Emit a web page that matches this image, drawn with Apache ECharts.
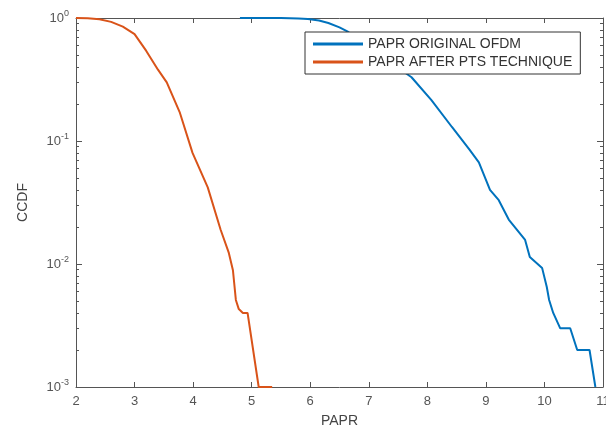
<!DOCTYPE html>
<html>
<head>
<meta charset="utf-8">
<script src="https://cdn.jsdelivr.net/npm/echarts@6/dist/echarts.min.js"></script>
<style>
html,body{margin:0;padding:0;background:#fff;}
#chart{width:606px;height:432px;}
</style>
</head>
<body>
<div id="chart"></div>
<script>
// ---- data ----
var seriesNames = ['PAPR ORIGINAL OFDM', 'PAPR AFTER PTS TECHNIQUE'];
var origX = [4.8, 5.5, 5.8, 5.96, 6.15, 6.31, 6.5, 6.65, 6.8, 7.0, 7.3, 7.73, 8.07, 8.42, 8.72, 8.88, 9.07, 9.22, 9.39, 9.67, 9.75, 9.96, 10.04, 10.08, 10.15, 10.27, 10.44, 10.56, 10.77, 10.87];
var origY = [1.0, 1.0, 0.99, 0.98, 0.955, 0.91, 0.84, 0.77, 0.69, 0.58, 0.46, 0.33, 0.215, 0.13, 0.085, 0.067, 0.04, 0.033, 0.023, 0.0157, 0.0114, 0.0093, 0.0065, 0.0051, 0.004, 0.003, 0.003, 0.002, 0.002, 0.001];
var ptsX = [2.0, 2.2, 2.4, 2.6, 2.8, 3.0, 3.2, 3.4, 3.55, 3.77, 3.99, 4.25, 4.47, 4.61, 4.68, 4.73, 4.78, 4.85, 4.93, 5.12, 5.35];
var ptsY = [1.0, 0.995, 0.975, 0.93, 0.85, 0.74, 0.54, 0.38, 0.30, 0.172, 0.08, 0.042, 0.019, 0.0123, 0.0089, 0.0051, 0.0043, 0.004, 0.004, 0.001, 0.001];
var xTickLabels = ['2','3','4','5','6','7','8','9','10','11'];
var yTickExponents = [-3, -2, -1, 0];
var yMinorTicks = [0.002,0.003,0.004,0.005,0.006,0.007,0.008,0.009,
                   0.02,0.03,0.04,0.05,0.06,0.07,0.08,0.09,
                   0.2,0.3,0.4,0.5,0.6,0.7,0.8,0.9];

function pairs(xs, ys){ return xs.map(function(x,i){ return [x, ys[i]]; }); }

var axisColor = '#555';
var font = 'Liberation Sans, Arial, sans-serif';

var chart = echarts.init(document.getElementById('chart'), null, {renderer:'canvas'});
var yMin = Math.pow(10, yTickExponents[0]);
var yMax = Math.pow(10, yTickExponents[yTickExponents.length-1]);
var xMin = Number(xTickLabels[0]), xMax = Number(xTickLabels[xTickLabels.length-1]);

var option = {
  animation: false,
  backgroundColor: '#fff',
  grid: {left: 76, right: 3, top: 18, bottom: 45, containLabel: false, outerBoundsMode: 'none'},
  legend: {
    orient: 'vertical', left: 305, top: 32,
    data: seriesNames,
    icon: 'rect', itemWidth: 50, itemHeight: 3, itemGap: 4,
    padding: [5, 8, 5, 8],
    borderColor: '#333', borderWidth: 1, backgroundColor: '#fff',
    textStyle: {fontSize: 14, color: '#333', fontFamily: font}
  },
  xAxis: [
    {
      type: 'value', position: 'bottom', min: xMin, max: xMax, interval: 1,
      name: 'PAPR', nameLocation: 'middle', nameGap: 27,
      nameTextStyle: {fontSize: 14, color: '#444', fontFamily: font},
      axisLine: {show: true, onZero: false, lineStyle: {color: axisColor, width: 1}},
      axisTick: {show: true, inside: true, length: 5, lineStyle: {color: axisColor}},
      axisLabel: {fontSize: 13, color: '#555', fontFamily: font, margin: 8,
        formatter: function(v){ return xTickLabels[Math.round(v - xMin)]; }},
      splitLine: {show: false}
    },
    {
      type: 'value', position: 'top', min: xMin, max: xMax, interval: 1,
      axisLine: {show: true, onZero: false, lineStyle: {color: axisColor, width: 1}},
      axisTick: {show: true, inside: true, length: 5, lineStyle: {color: axisColor}},
      axisLabel: {show: false}, splitLine: {show: false}
    }
  ],
  yAxis: [
    {
      type: 'log', logBase: 10, position: 'left', min: yMin, max: yMax,
      name: 'CCDF', nameLocation: 'middle', nameGap: 46, nameRotate: 90,
      nameTextStyle: {fontSize: 14, color: '#444', fontFamily: font},
      axisLine: {show: true, onZero: false, lineStyle: {color: axisColor, width: 1}},
      axisTick: {show: true, inside: true, length: 6, lineStyle: {color: axisColor}},
      axisLabel: {
        color: '#555', fontFamily: font, margin: 7,
        formatter: function(v){ return '{b|10}{s|' + Math.round(Math.log10(v)) + '}'; },
        rich: {
          b: {fontSize: 13, color: '#555', fontFamily: font},
          s: {fontSize: 9, color: '#555', fontFamily: font, verticalAlign: 'bottom', padding: [0,0,8,0]}
        }
      },
      splitLine: {show: false}
    },
    {
      type: 'log', logBase: 10, position: 'right', min: yMin, max: yMax,
      axisLine: {show: true, onZero: false, lineStyle: {color: axisColor, width: 1}},
      axisTick: {show: true, inside: true, length: 6, lineStyle: {color: axisColor}},
      axisLabel: {show: false}, splitLine: {show: false}
    },
    {
      type: 'log', logBase: 10, position: 'left', min: yMin, max: yMax,
      axisLine: {show: false},
      axisTick: {show: true, inside: true, length: 3, customValues: yMinorTicks, lineStyle: {color: axisColor}},
      axisLabel: {show: false}, splitLine: {show: false}
    },
    {
      type: 'log', logBase: 10, position: 'right', min: yMin, max: yMax,
      axisLine: {show: false},
      axisTick: {show: true, inside: true, length: 3, customValues: yMinorTicks, lineStyle: {color: axisColor}},
      axisLabel: {show: false}, splitLine: {show: false}
    }
  ],
  series: [
    {
      name: seriesNames[0], type: 'line', xAxisIndex: 0, yAxisIndex: 0,
      data: pairs(origX, origY), showSymbol: false, symbol: 'none',
      lineStyle: {color: '#0072BD', width: 2}, itemStyle: {color: '#0072BD'}
    },
    {
      name: seriesNames[1], type: 'line', xAxisIndex: 0, yAxisIndex: 0,
      data: pairs(ptsX, ptsY), showSymbol: false, symbol: 'none',
      lineStyle: {color: '#D95319', width: 2}, itemStyle: {color: '#D95319'}
    }
  ]
};
chart.setOption(option);
</script>
</body>
</html>
